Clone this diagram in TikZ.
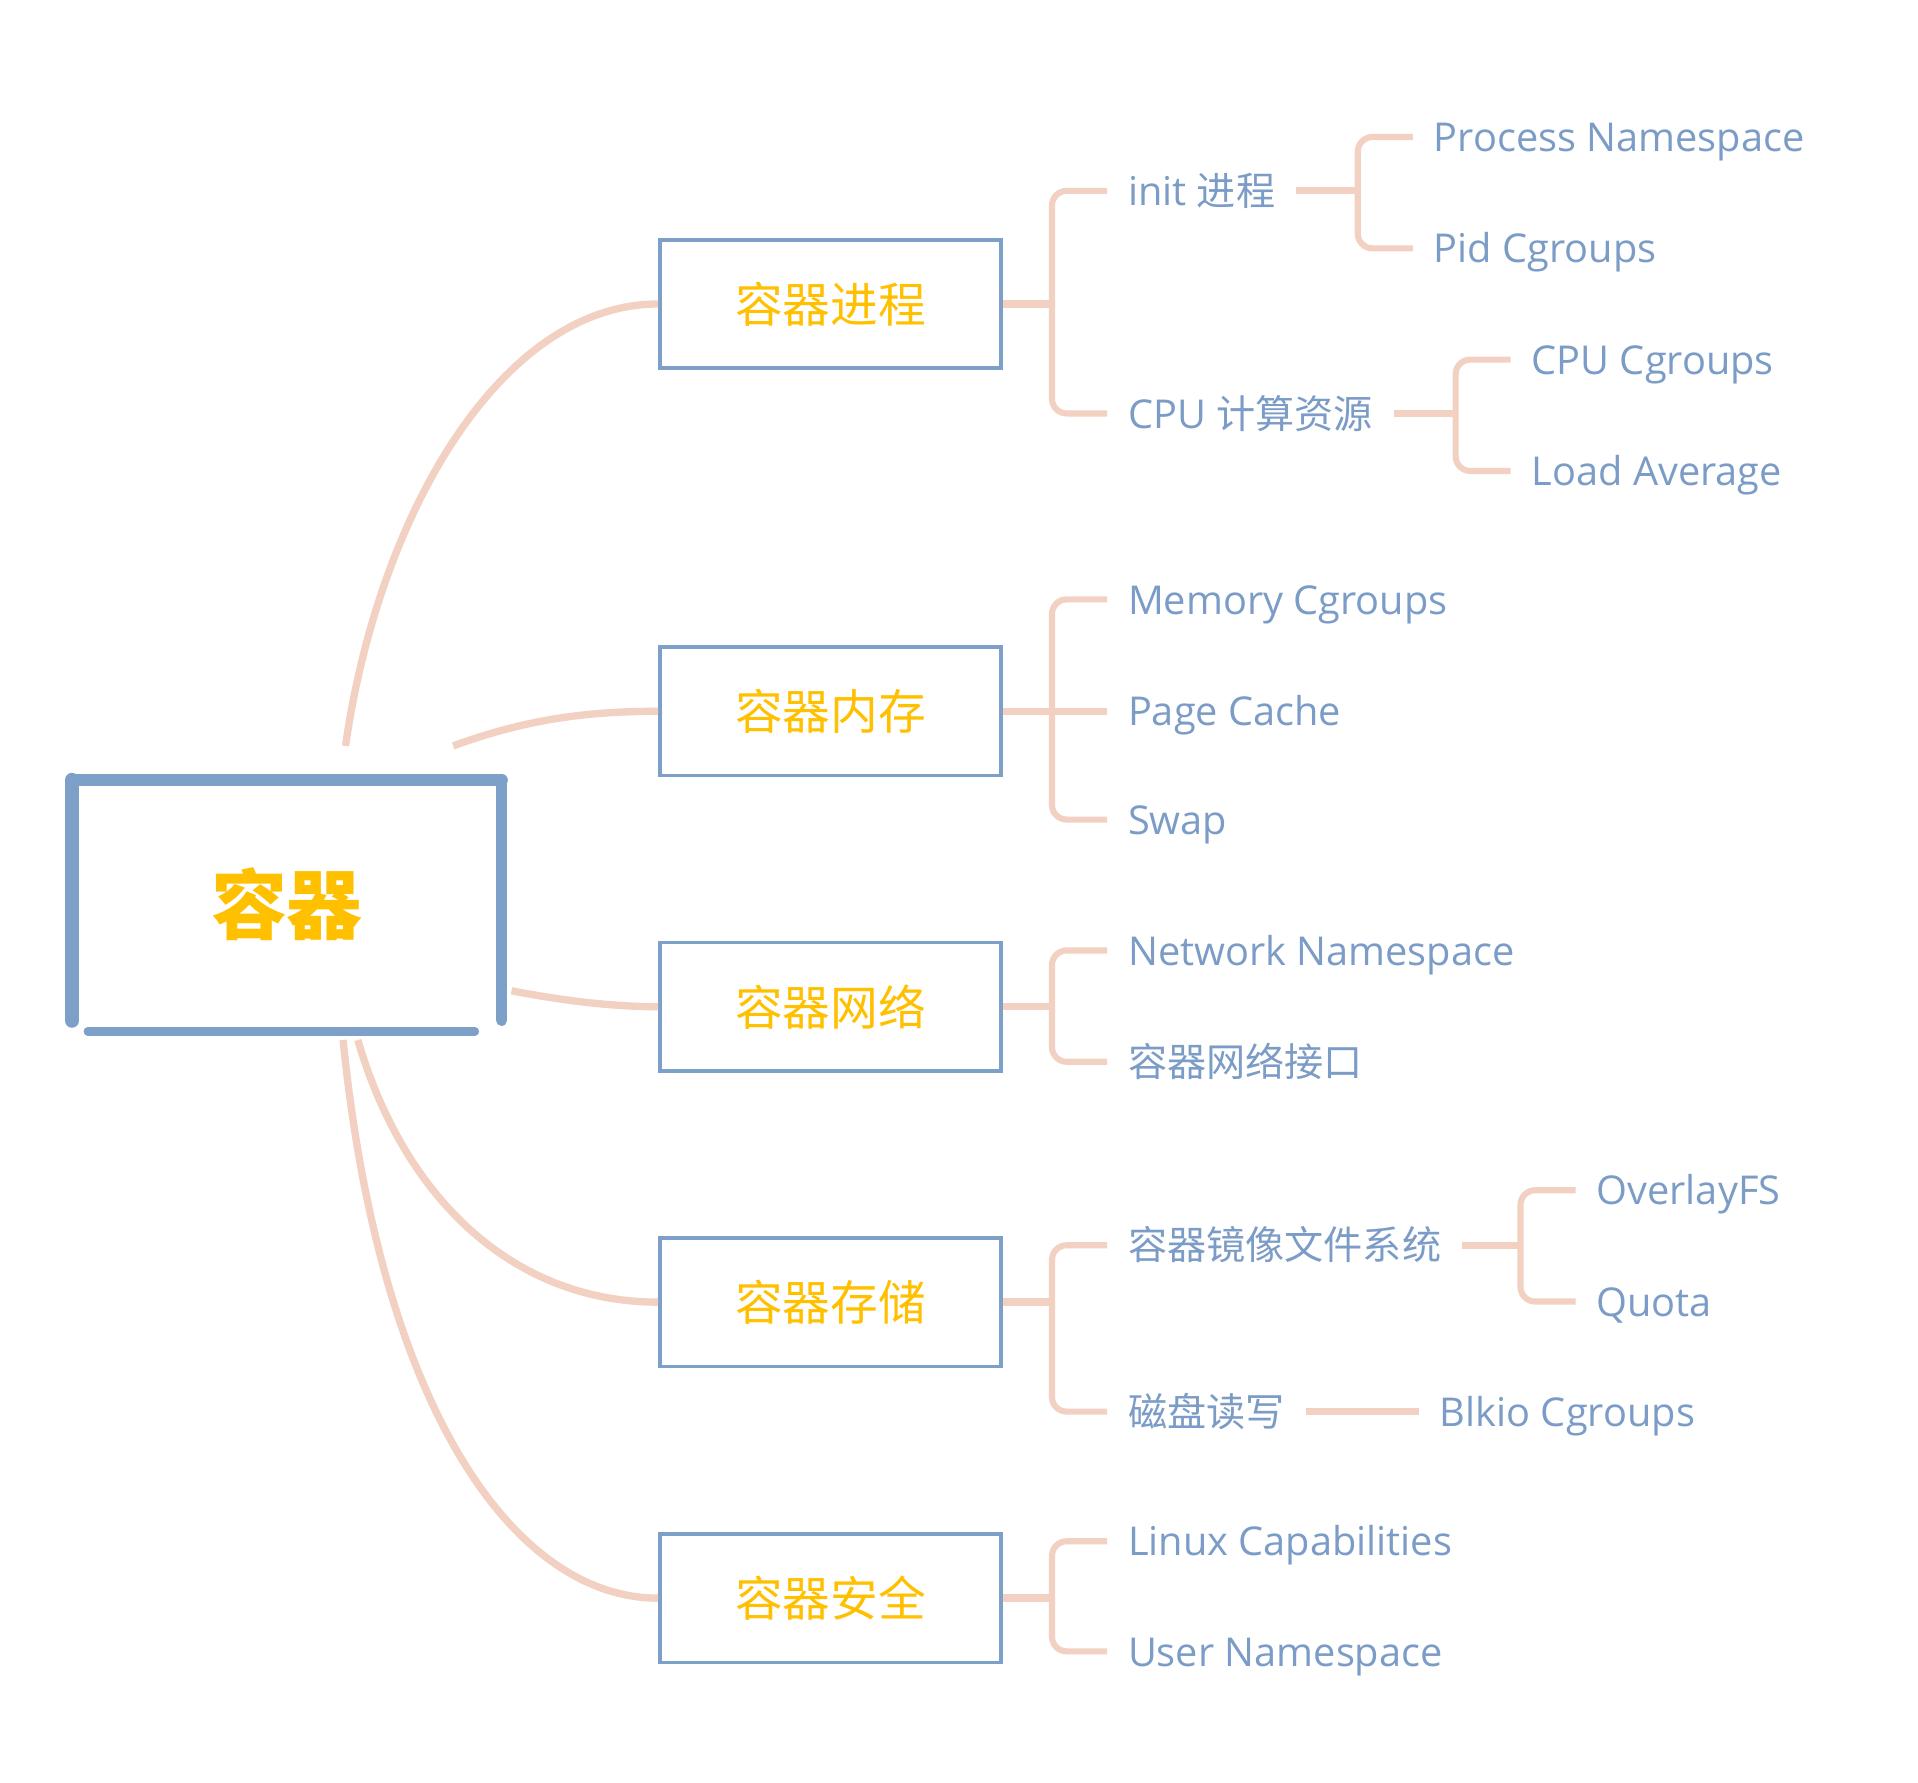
\documentclass[tikz,border=0pt]{standalone}
\usepackage{fontspec}
\setmainfont{Open Sans}[Scale=1.015]
\newfontfamily\cjk{Noto Sans CJK SC}
\usetikzlibrary{positioning}

\definecolor{linkpink}{HTML}{F2D1C3}
\definecolor{boxblue}{HTML}{7DA0C8}
\definecolor{txtblue}{HTML}{7B9CC6}
\definecolor{topicgold}{HTML}{FFC000}

\begin{document}
\begin{tikzpicture}[
  x = 1pt, y = -1pt,
  rootbox/.style = {
    minimum width=351pt, minimum height=202pt, inner sep=0pt,
    text=topicgold, font=\cjk\bfseries\fontsize{62}{70}\selectfont
  },
  rootedge/.style = {
    draw=boxblue, line cap=round
  },
  topic/.style = {
    draw=boxblue, line width=3pt, fill=white,
    minimum width=279pt, minimum height=105pt, inner sep=0pt,
    text=topicgold, font=\cjk\fontsize{39}{46}\selectfont
  },
  leaf/.style = {
    anchor=west, inner xsep=17pt, inner ysep=0pt,
    text height=26pt, text depth=2pt,
    text=txtblue, font=\fontsize{32}{38}\selectfont
  },
  link/.style = {
    draw=linkpink, line width=6pt
  },
  bracket/.style = {
    draw=linkpink, line width=5pt, rounded corners=12pt
  }
]

\path[fill=white, use as bounding box] (0,0) rectangle (1568,1457);

% ====== ROOT ======
\node[rootbox] (root) at (234.5,739) {容器};

% ====== TOPICS ======
\node[topic] (proc) at (679,248.5) {容器进程};
\node[topic] (mem)  at (679,581.5) {容器内存};
\node[topic] (net)  at (679,823)   {容器网络};
\node[topic] (stor) at (679,1064.5) {容器存储};
\node[topic] (sec)  at (679,1306.5) {容器安全};

% ====== SUBTOPICS ======
\node[leaf] (initp) at (905,156) {init {\cjk 进程}};
\node[leaf] (cpur)  at (905,338) {CPU {\cjk 计算资源}};

\node[leaf] (procns) at (1155,112) {Process Namespace};
\node[leaf] (pidcg)  at (1155,203) {Pid Cgroups};
\node[leaf] (cpucg)  at (1235,294) {CPU Cgroups};
\node[leaf] (loadav) at (1235,385) {Load Average};

\node[leaf] (memcg) at (905,490) {Memory Cgroups};
\node[leaf] (pagec) at (905,581.5) {Page Cache};
\node[leaf] (swap)  at (905,670) {Swap};

\node[leaf] (netns) at (905,777) {Network Namespace};
\node[leaf] (netif) at (905,868) {\cjk 容器网络接口};

\node[leaf] (imgfs)  at (905,1018) {\cjk 容器镜像文件系统};
\node[leaf] (diskio) at (905,1154) {\cjk 磁盘读写};

\node[leaf] (overlay) at (1288,973)  {OverlayFS};
\node[leaf] (quota)   at (1288,1064) {Quota};
\node[leaf] (blkio)   at (1160,1154) {Blkio Cgroups};

\node[leaf] (caps)   at (905,1260) {Linux Capabilities};
\node[leaf] (userns) at (905,1350) {User Namespace};

% ---- junctions ----
\coordinate[right=40pt of proc] (jproc);
\coordinate[right=40pt of mem]  (jmem);
\coordinate[right=40pt of net]  (jnet);
\coordinate[right=40pt of stor] (jstor);
\coordinate[right=40pt of sec]  (jsec);
\coordinate (jinit) at (1110,156);
\coordinate (jcpu)  at (1190,338);
\coordinate (jimg)  at (1243,1018);

% ---- curve ends at the root ----
\coordinate (r1) at ([xshift=48pt, yshift=28pt]root.north);
\coordinate (r2) at ([xshift=136pt, yshift=28pt]root.north);
\coordinate (r3) at ([xshift=8pt, yshift=-71pt]root.east);
\coordinate (r4) at ([xshift=58pt, yshift=-10pt]root.south);
\coordinate (r5) at ([xshift=46pt, yshift=-10pt]root.south);

% ====== CONNECTORS ======
% root -> topics
\draw[link] (r1) .. controls +(27,-190) and +(-128,0) .. (proc.west);
\draw[link] (r2) .. controls +(60,-22) and +(-58,0) .. (mem.west);
\draw[link] (r3) .. controls +(42,8) and +(-38,0) .. (net.west);
\draw[link] (r4) .. controls +(38,130) and +(-118,0) .. (stor.west);
\draw[link] (r5) .. controls +(30,300) and +(-118,0) .. (sec.west);

% topics -> subtopics
\draw[link] (proc.east) -- (jproc);
\draw[bracket] (initp.west) -| (jproc) |- (cpur.west);
\draw[link] (mem.east) -- (pagec.west);
\draw[bracket] (memcg.west) -| (jmem) |- (swap.west);
\draw[link] (net.east) -- (jnet);
\draw[bracket] (netns.west) -| (jnet) |- (netif.west);
\draw[link] (stor.east) -- (jstor);
\draw[bracket] (imgfs.west) -| (jstor) |- (diskio.west);
\draw[link] (sec.east) -- (jsec);
\draw[bracket] (caps.west) -| (jsec) |- (userns.west);

% subtopics -> details
\draw[link] (initp.east) -- (jinit);
\draw[bracket] (procns.west) -| (jinit) |- (pidcg.west);
\draw[link] (cpur.east) -- (jcpu);
\draw[bracket] (cpucg.west) -| (jcpu) |- (loadav.west);
\draw[link] (imgfs.east) -- (jimg);
\draw[bracket] (overlay.west) -| (jimg) |- (quota.west);
\draw[link] (diskio.east) -- (blkio.west);

% ---- hand-drawn root frame ----
\draw[rootedge, line width=10pt] (root.north west) -- (root.north east);
\draw[rootedge, line width=12pt] (root.north west) -- ([yshift=6pt]root.south west);
\draw[rootedge, line width=9pt] (root.north east) -- ([yshift=6pt]root.south east);
\draw[rootedge, line width=7pt] ([xshift=13pt, yshift=-3pt]root.south west)
  -- ([xshift=-22pt, yshift=-3pt]root.south east);

\end{tikzpicture}
\end{document}
